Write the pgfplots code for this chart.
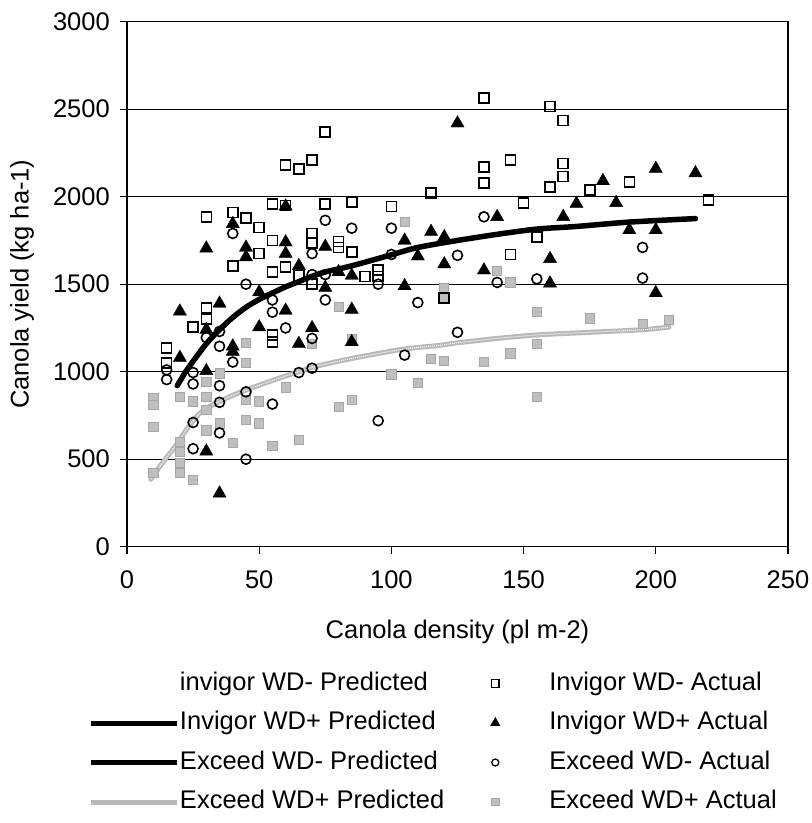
\documentclass[border=0pt]{standalone}
\usepackage{fontspec}
\setmainfont{Liberation Sans}
\usepackage{pgfplots}
\pgfplotsset{compat=1.18}
\usepackage{pgfplotstable}
\newcommand\bigf{\fontsize{25.5}{30}\selectfont}
\pgfplotsset{
  mylinelegend/.style={legend image code/.code={\draw[##1] (0pt,0pt) -- (86pt,0pt);}},
  myemptylegend/.style={legend image code/.code={\path[draw=none] (0pt,0pt) -- (86pt,0pt);}},
  mymarklegend/.style={legend image code/.code={\path[draw=none] (0pt,0pt) -- (50pt,0pt); \draw[##1] plot coordinates {(25pt,0pt)};}},
}

\pgfplotstableread{
x y
15 1135
15 1050
25 1255
30 1885
30 1365
30 1300
40 1910
40 1605
45 1880
50 1825
50 1675
55 1960
55 1750
55 1570
55 1210
55 1170
60 2180
60 1950
60 1600
65 2160
65 1550
70 2210
70 1790
70 1735
70 1500
75 2370
75 1960
80 1745
80 1710
85 1970
85 1685
90 1545
95 1580
95 1545
100 1945
115 2020
120 1420
135 2565
135 2170
135 2080
145 2210
145 1670
150 1965
155 1770
160 2515
160 2055
165 2435
165 2190
165 2115
175 2040
190 2085
220 1980
}\invminus

\pgfplotstableread{
x y
20 1345
20 1080
30 1705
30 1240
30 1005
30 545
35 1390
35 305
40 1845
40 1145
40 1115
45 1710
45 1655
50 1455
50 1255
60 1945
60 1740
60 1675
60 1350
65 1605
65 1160
70 1250
75 1715
75 1480
80 1570
85 1550
85 1355
85 1170
105 1750
105 1490
110 1660
115 1800
120 1770
120 1615
125 2420
135 1580
140 1885
160 1645
160 1505
165 1885
170 1960
180 2090
185 1965
190 1810
200 2160
200 1810
200 1450
215 2135
}\invplus

\pgfplotstableread{
x y
15 1010
15 955
25 995
25 930
25 710
25 560
30 1195
35 1230
35 1145
35 920
35 825
35 650
40 1790
40 1055
45 1500
45 885
45 500
55 1410
55 1340
55 815
60 1250
65 995
70 1675
70 1555
70 1190
70 1020
75 1865
75 1555
75 1410
85 1820
95 1500
95 720
100 1820
100 1670
105 1095
110 1395
125 1665
125 1225
135 1885
140 1510
155 1530
195 1710
195 1535
}\excminus

\pgfplotstableread{
x y
10 850
10 810
10 685
10 420
20 855
20 600
20 540
20 480
20 420
25 830
25 380
30 940
30 855
30 780
30 665
35 990
35 705
40 595
45 1165
45 1050
45 840
45 725
50 830
50 705
55 575
60 910
65 610
70 1160
80 1370
80 800
85 1185
85 840
100 985
105 1855
110 935
115 1075
120 1480
120 1420
120 1060
135 1055
140 1575
145 1510
145 1105
155 1340
155 1160
155 855
175 1305
195 1275
205 1295
}\excplus

\pgfplotstableread{
x y
19 920
22 995
25 1060
30 1160
35 1240
40 1310
45 1368
50 1413
55 1450
60 1485
65 1515
70 1545
75 1570
85 1605
100 1668
110 1710
125 1750
140 1785
155 1815
170 1830
190 1855
215 1875
}\invpluspred

\pgfplotstableread{
x y
9 385
12 450
15 510
19 590
23 680
27 755
30 790
35 830
40 865
45 895
55 950
65 1000
70 1025
80 1060
90 1090
105 1130
118 1150
125 1165
140 1190
155 1210
175 1225
195 1240
205 1255
}\excpluspred

\begin{document}
\begin{tikzpicture}
\path[use as bounding box] (-127pt,-276.3pt) rectangle (685pt,546.7pt);
\begin{axis}[
  at={(0pt,0pt)}, anchor=south west,
  scale only axis, width=661pt, height=525pt,
  xmin=0, xmax=250, ymin=0, ymax=3000,
  xtick={0,50,...,250}, ytick={0,500,...,3000},
  tick pos=left, tick align=outside, major tick length=7pt,
  ymajorgrids, grid style={black, line width=1.1pt},
  axis line style={black, line width=1.2pt},
  every tick/.style={black, line width=1.2pt},
  font=\bigf,
  /pgf/number format/assume math mode=true,
  /pgf/number format/1000 sep={},
  xticklabel style={font=\bigf, inner sep=0pt, anchor=north, yshift=-17pt},
  yticklabel style={font=\bigf, inner sep=0pt, anchor=east, xshift=-10pt},
  xlabel={Canola density (pl m-2)},
  ylabel={Canola yield (kg ha-1)},
  every axis x label/.style={at={(axis description cs:0.5,-0.1625)}, anchor=center, font=\bigf},
  every axis y label/.style={at={(axis description cs:-0.1589,0.5)}, rotate=90, anchor=center, font=\bigf},
  legend style={at={(axis description cs:-0.0575,-0.2387)}, anchor=north west,
    draw=none, fill=none, inner sep=0pt, outer sep=0pt, font=\bigf,
    nodes={inner sep=0pt, text height=18pt, text depth=5pt},
    row sep=16.5pt,
    /tikz/column 1/.style={column sep=0pt},
    /tikz/column 2/.style={column sep=26pt},
    /tikz/column 3/.style={column sep=29pt},
    cells={anchor=west}},
  legend columns=4, transpose legend,
  legend cell align=left,
]
\addplot[only marks, mark=square*, mark size=4.6pt, mark options={fill=gray!50, draw=gray!70, line width=0.8pt}, forget plot] table {\excplus};
\addplot[only marks, mark=triangle*, mark size=7.6pt, mark options={fill=black, draw=black}, forget plot] table {\invplus};
\addplot[only marks, mark=square, mark size=5pt, mark options={fill=white, draw=black, line width=1.6pt}, forget plot] table {\invminus};
\addplot[black, line width=5.5pt, line cap=round, smooth, forget plot] table {\invpluspred};
\addplot[gray!55, line width=5pt, line cap=round, smooth, forget plot] table {\excpluspred};
\addplot[white, line width=1pt, densely dotted, smooth, forget plot] table {\excpluspred};
\addplot[only marks, mark=o, mark size=5pt, mark options={fill=white, draw=black, line width=1.6pt}, forget plot] table {\excminus};

\addlegendimage{draw=none, myemptylegend}
\addlegendentry{invigor WD- Predicted}
\addlegendimage{black, line width=5pt, mylinelegend}
\addlegendentry{Invigor WD+ Predicted}
\addlegendimage{black, line width=5pt, mylinelegend}
\addlegendentry{Exceed WD- Predicted}
\addlegendimage{gray!55, line width=5pt, mylinelegend}
\addlegendentry{Exceed WD+ Predicted}
\addlegendimage{only marks, mark=square, mark size=3.8pt, mark options={fill=white, draw=black, line width=1.3pt}, mymarklegend}
\addlegendentry{Invigor WD- Actual}
\addlegendimage{only marks, mark=triangle*, mark size=5.5pt, mark options={fill=black, draw=black}, mymarklegend}
\addlegendentry{Invigor WD+ Actual}
\addlegendimage{only marks, mark=o, mark size=3.5pt, mark options={fill=white, draw=black, line width=1.3pt}, mymarklegend}
\addlegendentry{Exceed WD- Actual}
\addlegendimage{only marks, mark=square*, mark size=3.8pt, mark options={fill=gray!50, draw=gray!70, line width=0.8pt}, mymarklegend}
\addlegendentry{Exceed WD+ Actual}
\end{axis}
\end{tikzpicture}
\end{document}
